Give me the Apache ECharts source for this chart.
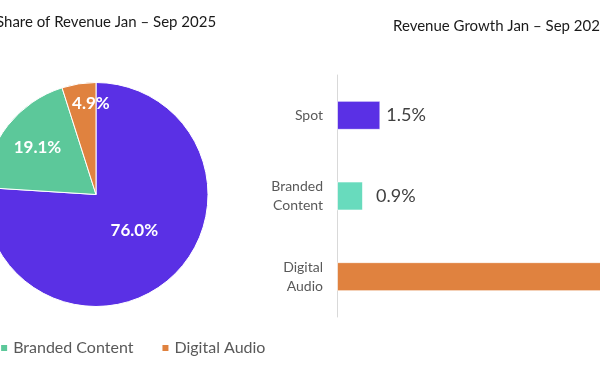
<!DOCTYPE html>
<html>
<head>
<meta charset="utf-8">
<script src="https://cdn.jsdelivr.net/npm/echarts@6/dist/echarts.min.js"></script>
<style>html,body{margin:0;padding:0;background:#fff;}#c{width:600px;height:372px;}</style>
</head>
<body>
<div id="c"></div>
<script>
const shareCategories = ['Spot', 'Branded Content', 'Digital Audio'];
const shareValues = [76.0, 19.1, 4.9];
const growthCategories = ['Spot', 'Branded\nContent', 'Digital\nAudio'];
const growthValues = [1.5, 0.9, 11.0];
const pieColors = ['#5A30E5', '#5CC89A', '#E0823F'];
const barColors = ['#5A30E5', '#68DBBD', '#E0823F'];
const FONT = 'Lato, "Open Sans", sans-serif';

const chart = echarts.init(document.getElementById('c'), null, {renderer: 'canvas'});
const labelShift = [[-2, -7], [-12, -11], [4, -33]];
const barLabelGap = [6, 13, 6];
chart.setOption({
  animation: false,
  textStyle: {fontFamily: FONT},
  title: [
    {text: 'Share of Revenue Jan \u2013 Sep 2025', left: -9, top: 10,
     textStyle: {fontFamily: FONT, fontSize: 15, fontWeight: 'normal', color: '#1a1a1a'}},
    {text: 'Revenue Growth Jan \u2013 Sep 2025', left: 388, top: 14,
     textStyle: {fontFamily: FONT, fontSize: 15, fontWeight: 'normal', color: '#1a1a1a'}}
  ],
  legend: {
    data: shareCategories, left: -79, top: 335, icon: 'rect', itemWidth: 8, itemHeight: 8,
    itemGap: 27, textStyle: {fontFamily: FONT, fontSize: 16, color: '#595959'}
  },
  grid: {left: 337, top: 75, height: 242, right: 0},
  xAxis: {type: 'value', min: 0, max: 9.1, show: false},
  yAxis: {
    type: 'category', data: growthCategories, inverse: true,
    axisLine: {lineStyle: {color: '#d9d9d9'}}, axisTick: {show: false},
    axisLabel: {fontFamily: FONT, fontSize: 14, color: '#595959', margin: 14, lineHeight: 19}
  },
  series: [
    {
      type: 'pie', center: [96, 194.5], radius: 112, startAngle: 90, clockwise: true,
      data: shareCategories.map((n, i) => ({name: n, value: shareValues[i], itemStyle: {color: pieColors[i]}})),
      itemStyle: {borderColor: '#fff', borderWidth: 1},
      label: {position: 'inside', color: '#fff', fontFamily: FONT, fontSize: 17, fontWeight: 'bold',
              formatter: p => p.value.toFixed(1) + '%'},
      labelLayout: p => ({dx: labelShift[p.dataIndex][0], dy: labelShift[p.dataIndex][1]}),
      emphasis: {disabled: true}
    },
    {
      type: 'bar', barWidth: 29, clip: false,
      data: growthValues.map((v, i) => ({value: v, itemStyle: {color: barColors[i]},
        label: {distance: barLabelGap[i]}})),
      itemStyle: {borderColor: 'rgba(255,255,255,0.6)', borderWidth: 1},
      label: {show: true, position: 'right', fontFamily: FONT, fontSize: 18, color: '#404040',
              formatter: p => p.value.toFixed(1) + '%'}
    }
  ]
});
</script>
</body>
</html>
